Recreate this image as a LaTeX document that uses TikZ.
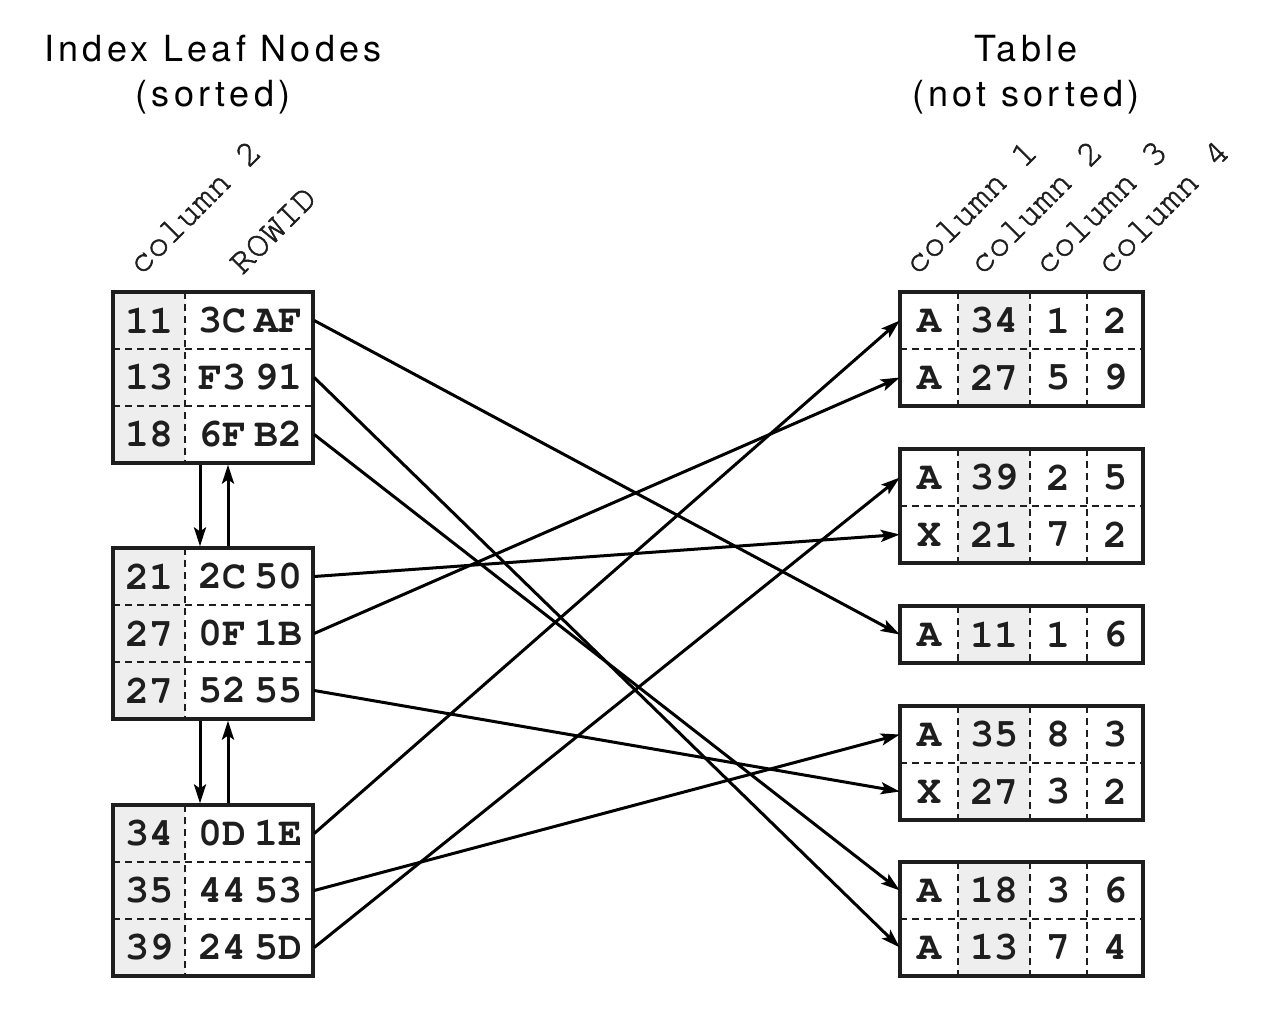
\documentclass[tikz,border=0pt]{standalone}
\usepackage{fontspec}
\setmainfont{TeX Gyre Heros}
\newfontfamily\hdrfont[LetterSpace=12]{TeX Gyre Heros}
\newfontfamily\cellfont{TeX Gyre Cursor}
\newfontfamily\lblfont[FakeBold=1.5]{TeX Gyre Cursor}
\usetikzlibrary{arrows.meta}
\definecolor{cellgray}{RGB}{238,238,238}
\definecolor{ink}{RGB}{30,30,30}
% left index row: name, y, key, rowid
\newcommand\leafrow[4]{%
  \node[cell,minimum width=72pt] (#1k) at (149,#2) {#3};
  \node[cell,minimum width=128pt] (#1) at (250,#2) {#4};}
% table row: name, y, c1, c2, c3, c4
\newcommand\tblrow[6]{%
  \node[cell,minimum width=58pt] (#1) at (929,#2) {#3};
  \node[cell] (#1b) at (994,#2) {#4};
  \node[cell] (#1c) at (1058.5,#2) {#5};
  \node[cell] (#1d) at (1115,#2) {#6};}
\begin{document}
\begin{tikzpicture}[x=1pt,y=-1pt,
  hdr/.style={font=\hdrfont\fontsize{36}{40}\selectfont, anchor=base, inner sep=0},
  collabel/.style={font=\lblfont\fontsize{36}{40}\selectfont, text=ink, rotate=45, anchor=base west, inner sep=0},
  cell/.style={font=\cellfont\bfseries\fontsize{40}{44}\selectfont, text=ink, inner sep=0, minimum height=57pt, anchor=center},
  frame/.style={draw=ink, line width=3.2pt, inner sep=0},
  sep/.style={draw=ink, line width=2pt, dash pattern=on 7pt off 5pt},
  link/.style={draw=black, line width=3pt, -{Stealth[length=19pt,width=12pt,inset=4pt]}},
]
\useasboundingbox[fill=white] (0,0) rectangle (1274,1014);

% headers
\node[hdr] (h1) at (213,62) {Index Leaf Nodes};
\node[hdr] (h2) at (213,107) {(sorted)};
\node[hdr] (h3) at (1026,62) {Table};
\node[hdr] (h4) at (1026,107) {(not sorted)};

% column labels
\node[collabel] (lc1) at (141,276) {column 2};
\node[collabel] (lc2) at (242,276) {ROWID};
\node[collabel] (rc1) at (917,276) {column 1};
\node[collabel] (rc2) at (982,276) {column 2};
\node[collabel] (rc3) at (1047,276) {column 3};
\node[collabel] (rc4) at (1109,276) {column 4};

% index leaf blocks
\foreach \T/\n in {292/blk1,548/blk2,805/blk3}{
  \fill[cellgray] (113,\T) rectangle (185,\T+171);
  \draw[sep] (185,\T) -- (185,\T+171);
  \draw[sep] (113,\T+57) -- (313,\T+57);
  \draw[sep] (113,\T+114) -- (313,\T+114);
  \node[frame, minimum width=200pt, minimum height=171pt] (\n) at (213,\T+85.5) {};
}
\leafrow{a1}{320.5}{11}{3C\kern8pt AF}
\leafrow{a2}{377.5}{13}{F3\kern8pt 91}
\leafrow{a3}{434.5}{18}{6F\kern8pt B2}
\leafrow{b1}{576.5}{21}{2C\kern8pt 50}
\leafrow{b2}{633.5}{27}{0F\kern8pt 1B}
\leafrow{b3}{690.5}{27}{52\kern8pt 55}
\leafrow{c1}{833.5}{34}{0D\kern8pt 1E}
\leafrow{c2}{890.5}{35}{44\kern8pt 53}
\leafrow{c3}{947.5}{39}{24\kern8pt 5D}

% table blocks
\foreach \T/\r/\n in {292/2/tb1,449/2/tb2,606/1/tb3,706/2/tb4,862/2/tb5}{
  \pgfmathsetmacro\H{57*\r}
  \fill[cellgray] (958,\T) rectangle (1030,\T+\H);
  \draw[sep] (958,\T) -- (958,\T+\H);
  \draw[sep] (1030,\T) -- (1030,\T+\H);
  \draw[sep] (1087,\T) -- (1087,\T+\H);
  \ifnum\r=2 \draw[sep] (900,\T+57) -- (1143,\T+57); \fi
  \node[frame, minimum width=243pt, minimum height=\H pt] (\n) at (1021.5,\T+\H/2) {};
}
\tblrow{t34}{320.5}{A}{34}{1}{2}
\tblrow{t27a}{377.5}{A}{27}{5}{9}
\tblrow{t39}{477.5}{A}{39}{2}{5}
\tblrow{t21}{534.5}{X}{21}{7}{2}
\tblrow{t11}{634.5}{A}{11}{1}{6}
\tblrow{t35}{734.5}{A}{35}{8}{3}
\tblrow{t27x}{791.5}{X}{27}{3}{2}
\tblrow{t18}{890.5}{A}{18}{3}{6}
\tblrow{t13}{947.5}{A}{13}{7}{4}

% leaf links
\draw[link] ([xshift=-13pt]blk1.south) -- ([xshift=-13pt]blk2.north);
\draw[link] ([xshift=15pt]blk2.north) -- ([xshift=15pt]blk1.south);
\draw[link] ([xshift=-13pt]blk2.south) -- ([xshift=-13pt]blk3.north);
\draw[link] ([xshift=15pt]blk3.north) -- ([xshift=15pt]blk2.south);

% rowid pointers
\draw[link] (a1.east) -- (t11.west);
\draw[link] (a2.east) -- (t13.west);
\draw[link] (a3.east) -- (t18.west);
\draw[link] (b1.east) -- (t21.west);
\draw[link] (b2.east) -- (t27a.west);
\draw[link] (b3.east) -- (t27x.west);
\draw[link] (c1.east) -- (t34.west);
\draw[link] (c2.east) -- (t35.west);
\draw[link] (c3.east) -- (t39.west);
\end{tikzpicture}
\end{document}
